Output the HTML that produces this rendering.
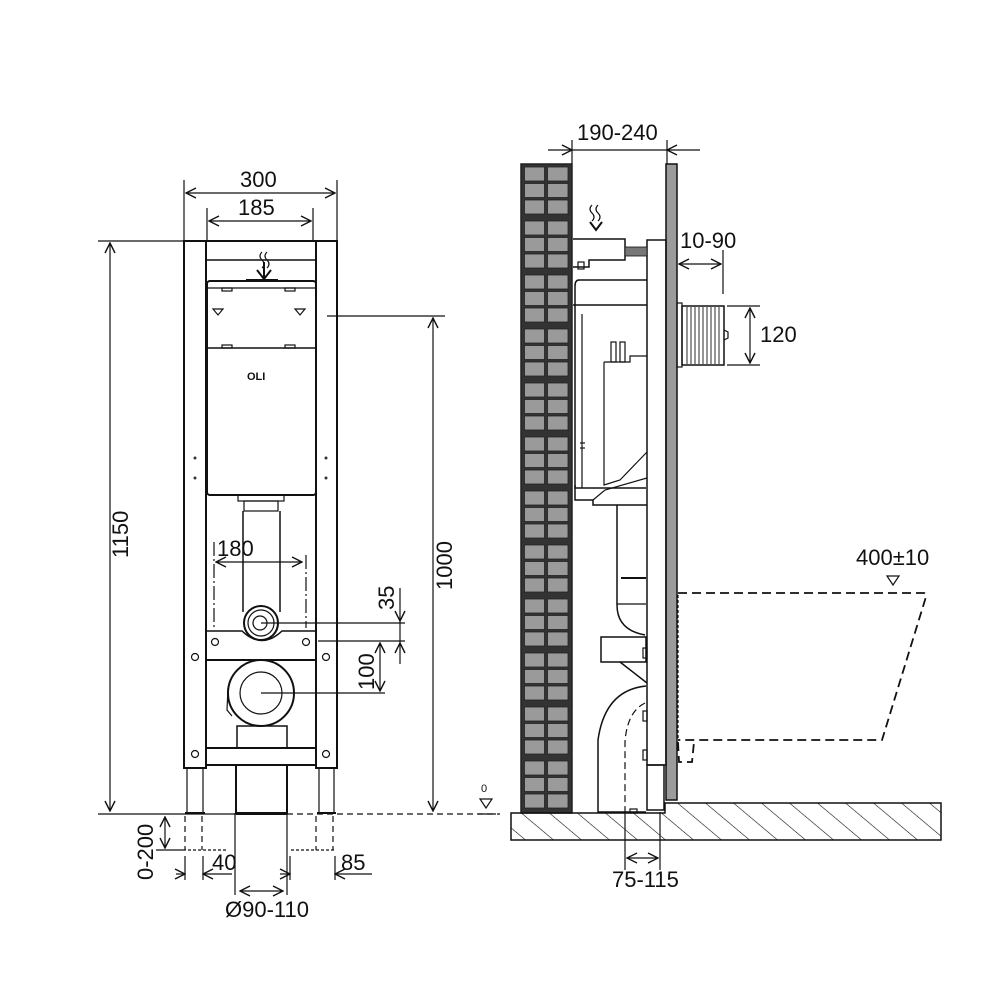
<!DOCTYPE html>
<html><head><meta charset="utf-8"><style>
body{margin:0;background:#fff}
svg{display:block}
text{font-family:"Liberation Sans",sans-serif;font-size:22px;fill:#111}
</style></head><body>
<svg width="1000" height="1000" viewBox="0 0 1000 1000" xmlns="http://www.w3.org/2000/svg">
<defs>
<pattern id="brick" x="521" y="164" width="51" height="54" patternUnits="userSpaceOnUse">
<rect width="51" height="54" fill="#333"/>
<g fill="#9a9a9a" stroke="#222" stroke-width="0.8">
<rect x="3.5" y="3" width="20" height="14"/><rect x="26.5" y="3" width="20.5" height="14"/>
<rect x="3.5" y="19.5" width="20" height="14"/><rect x="26.5" y="19.5" width="20.5" height="14"/>
<rect x="3.5" y="36" width="20" height="14"/><rect x="26.5" y="36" width="20.5" height="14"/>
</g>
</pattern>
<pattern id="hatch" width="18" height="18" patternUnits="userSpaceOnUse" patternTransform="rotate(-50)">
<line x1="0" y1="0" x2="0" y2="18" stroke="#111" stroke-width="1.2"/>
</pattern>
<marker id="a" viewBox="0 0 12 12" refX="11" refY="6" markerWidth="12" markerHeight="12" orient="auto-start-reverse" markerUnits="userSpaceOnUse">
<path d="M1,1 L11,6 L1,11" fill="none" stroke="#111" stroke-width="1.4"/>
</marker>
</defs>
<g fill="none" stroke="#111" stroke-width="1.2">
<line x1="184" y1="180" x2="184" y2="240"/><line x1="337" y1="180" x2="337" y2="240"/>
<line x1="207" y1="208" x2="207" y2="240"/><line x1="313" y1="208" x2="313" y2="240"/>
<line x1="186" y1="193" x2="335" y2="193" marker-start="url(#a)" marker-end="url(#a)"/>
<line x1="209" y1="221" x2="311" y2="221" marker-start="url(#a)" marker-end="url(#a)"/>
<rect x="184" y="241" width="22" height="527" stroke-width="2"/>
<rect x="316" y="241" width="21" height="527" stroke-width="2"/>
<line x1="206" y1="241" x2="316" y2="241" stroke-width="2"/>
<line x1="206" y1="260" x2="316" y2="260" stroke-width="1.5"/>
<line x1="187" y1="768" x2="187" y2="813"/><line x1="203" y1="768" x2="203" y2="813"/>
<line x1="319" y1="768" x2="319" y2="813"/><line x1="334" y1="768" x2="334" y2="813"/>
<line x1="185" y1="813" x2="205" y2="813" stroke-width="2"/><line x1="317" y1="813" x2="336" y2="813" stroke-width="2"/>
<g stroke-dasharray="6,4">
<line x1="185" y1="816" x2="185" y2="850"/><line x1="202" y1="816" x2="202" y2="850"/>
<line x1="316" y1="816" x2="316" y2="850"/><line x1="333" y1="816" x2="333" y2="850"/>
<line x1="183" y1="850" x2="228" y2="850" stroke-dasharray="3,2"/><line x1="291" y1="850" x2="335" y2="850" stroke-dasharray="3,2"/>
</g>
<rect x="207" y="281" width="109" height="214" rx="3" stroke-width="2"/>
<line x1="208" y1="288" x2="315" y2="288"/>
<line x1="208" y1="348" x2="315" y2="348" stroke-width="1.5"/>
<line x1="246" y1="280" x2="278" y2="280" stroke-width="2"/>
<rect x="222" y="288" width="10" height="3"/><rect x="285" y="288" width="10" height="3"/>
<rect x="222" y="345" width="10" height="3"/><rect x="285" y="345" width="10" height="3"/>
<path d="M213,309 L223,309 L218,315 Z M295,309 L305,309 L300,315 Z"/>
<path d="M262,252 q-4,4 0,8 q4,4 0,8 M267,252 q-4,4 0,8 q4,4 0,8" />
<path d="M257,270 L264,279 L271,270" stroke-width="2"/>
<line x1="264" y1="262" x2="264" y2="279" stroke-width="2"/>
<rect x="238" y="495" width="46" height="6"/>
<rect x="244" y="501" width="34" height="10"/>
<path d="M243,511 L243,612 M280,511 L280,612" stroke-width="1.5"/>
<g fill="#333" stroke="none">
<circle cx="195" cy="458" r="1.5"/><circle cx="195" cy="478" r="1.5"/>
<circle cx="326" cy="458" r="1.5"/><circle cx="326" cy="478" r="1.5"/>
</g>
<circle cx="195" cy="657" r="3.5"/><circle cx="326" cy="657" r="3.5"/>
<circle cx="195" cy="754" r="3.5"/><circle cx="326" cy="754" r="3.5"/>
<circle cx="215" cy="642" r="3.5"/><circle cx="306" cy="642" r="3.5"/>
<line x1="214" y1="542" x2="214" y2="628" stroke-dasharray="14,3,2,3"/>
<line x1="306" y1="555" x2="306" y2="628" stroke-dasharray="14,3,2,3"/>
<line x1="216" y1="562" x2="302" y2="562" marker-start="url(#a)" marker-end="url(#a)"/>
<path d="M207,631 L242,631 Q262,650 282,631 L316,631" stroke-width="1.5"/>
<line x1="207" y1="660" x2="316" y2="660" stroke-width="2"/>
<circle cx="261" cy="623" r="17" fill="#fff" stroke-width="2"/><circle cx="261" cy="623" r="13"/><circle cx="260" cy="623" r="7"/>
<line x1="261" y1="623" x2="405" y2="623"/>
<line x1="318" y1="641" x2="405" y2="641"/>
<circle cx="261" cy="693" r="33" stroke-width="2"/><circle cx="261" cy="693" r="21"/>
<path d="M228,688 L227,710 L232,716"/>
<line x1="261" y1="693" x2="385" y2="693"/>
<rect x="237" y="726" width="50" height="22" stroke-width="1.5"/>
<line x1="207" y1="748" x2="316" y2="748" stroke-width="2"/>
<line x1="207" y1="765" x2="316" y2="765" stroke-width="2"/>
<path d="M236,765 L236,813 L287,813 L287,765" stroke-width="2"/>
<line x1="235" y1="813" x2="235" y2="895"/><line x1="287" y1="813" x2="287" y2="895"/>
<line x1="240" y1="891" x2="283" y2="891" marker-start="url(#a)" marker-end="url(#a)"/>
<line x1="185" y1="856" x2="185" y2="880"/><line x1="203" y1="856" x2="203" y2="880"/>
<line x1="176" y1="874" x2="185" y2="874" marker-end="url(#a)"/><line x1="232" y1="874" x2="203" y2="874" marker-end="url(#a)"/>
<line x1="290" y1="856" x2="290" y2="880"/><line x1="335" y1="856" x2="335" y2="880"/>
<line x1="280" y1="874" x2="290" y2="874" marker-end="url(#a)"/><line x1="372" y1="874" x2="335" y2="874" marker-end="url(#a)"/>
<line x1="156" y1="850" x2="183" y2="850"/>
<line x1="165" y1="817" x2="165" y2="848" marker-start="url(#a)" marker-end="url(#a)"/>
<line x1="98" y1="241" x2="183" y2="241"/>
<line x1="110" y1="243" x2="110" y2="811" marker-start="url(#a)" marker-end="url(#a)"/>
<line x1="98" y1="814" x2="236" y2="814"/>
<line x1="287" y1="814" x2="500" y2="814" stroke-dasharray="6,4"/>
<line x1="236" y1="814" x2="287" y2="814" stroke-width="2"/>
<line x1="327" y1="316" x2="445" y2="316"/>
<line x1="433" y1="318" x2="433" y2="811" marker-start="url(#a)" marker-end="url(#a)"/>
<line x1="400" y1="588" x2="400" y2="621" marker-end="url(#a)"/>
<line x1="400" y1="664" x2="400" y2="643" marker-end="url(#a)"/>
<line x1="400" y1="621" x2="400" y2="643"/>
<line x1="380" y1="643" x2="380" y2="691" marker-start="url(#a)" marker-end="url(#a)"/>
<path d="M480,799 L492,799 L486,808 Z"/>
<line x1="478" y1="814" x2="496" y2="814"/>

<rect x="521" y="164" width="51" height="649" fill="url(#brick)" stroke="#222" stroke-width="1.5"/>
<rect x="511" y="813" width="154" height="27" fill="url(#hatch)" stroke="none"/>
<rect x="665" y="803" width="276" height="37" fill="url(#hatch)" stroke="none"/>
<path d="M511,813 L665,813 L665,803 L941,803 L941,840 L511,840 Z" stroke-width="1.5"/>
<line x1="572" y1="140" x2="572" y2="164"/><line x1="667" y1="140" x2="667" y2="164"/>
<line x1="548" y1="150" x2="572" y2="150" marker-end="url(#a)"/>
<line x1="700" y1="150" x2="667" y2="150" marker-end="url(#a)"/>
<line x1="572" y1="150" x2="667" y2="150"/>
<rect x="666" y="164" width="11" height="636" fill="#9b9b9b" stroke-width="1.5"/>
<rect x="647" y="240" width="19" height="525" stroke-width="1.5"/>
<rect x="647" y="765" width="17" height="45" stroke-width="1.5"/>
<path d="M573,239 L625,239 L625,260 L589,260 L589,267 L573,267" stroke-width="1.5"/>
<rect x="625" y="247" width="22" height="9" fill="#777" stroke-width="0.8"/>
<rect x="578" y="262" width="6" height="7"/>
<path d="M592,205 q-4,4 0,8 q4,4 0,8 M598,205 q-4,4 0,8 q4,4 0,8"/>
<path d="M590,222 L596,230 L602,222" stroke-width="2"/>
<path d="M647,280 L579,280 Q575,280 575,286 L575,306" stroke-width="1.5"/>
<line x1="573" y1="305" x2="647" y2="305" stroke-width="1.5"/>
<path d="M575,306 L575,488 L646,488" stroke-width="1.5"/>
<path d="M582,314 L582,488 M604,362 L604,485 L620,480 L647,452"/>
<path d="M604,362 L630,362 L630,356 L647,356"/>
<rect x="611" y="342" width="5" height="20"/><rect x="620" y="342" width="5" height="20"/>
<line x1="580" y1="443" x2="585" y2="443"/><line x1="580" y1="448" x2="585" y2="448"/>
<path d="M575,485 L575,500 L593,500 L593,505 L647,505" stroke-width="1.5"/>
<path d="M593,500 L605,490 L647,478"/>
<path d="M617,505 L617,605 Q617,630 645,635" stroke-width="1.5"/>
<line x1="621" y1="578" x2="646" y2="578" stroke-width="2"/>
<line x1="617" y1="604" x2="646" y2="604"/>
<rect x="601" y="637" width="45" height="25" stroke-width="1.5"/>
<path d="M620,662 L647,683" stroke-width="1.5"/>
<path d="M646,686 Q605,690 598,740 L598,812 L646,812" stroke-width="1.5"/>
<path d="M645,703 Q627,712 625,742 L625,812" stroke-dasharray="7,4"/>
<rect x="643" y="711" width="4" height="10"/><rect x="643" y="750" width="4" height="10"/><rect x="643" y="648" width="4" height="10"/>
<rect x="630" y="809" width="7" height="4"/>
<line x1="625" y1="812" x2="625" y2="870"/><line x1="660" y1="812" x2="660" y2="870"/>
<line x1="627" y1="858" x2="658" y2="858" marker-start="url(#a)" marker-end="url(#a)"/>
<rect x="677" y="303" width="5" height="64" stroke-width="1.2"/>
<rect x="682" y="306" width="42" height="59" stroke-width="1.5"/>
<g stroke-width="0.9">
<line x1="687" y1="307" x2="687" y2="364"/><line x1="691" y1="307" x2="691" y2="364"/><line x1="695" y1="307" x2="695" y2="364"/><line x1="699" y1="307" x2="699" y2="364"/><line x1="703" y1="307" x2="703" y2="364"/><line x1="707" y1="307" x2="707" y2="364"/><line x1="711" y1="307" x2="711" y2="364"/><line x1="715" y1="307" x2="715" y2="364"/><line x1="719" y1="307" x2="719" y2="364"/>
</g>
<path d="M724,330 L728,332 L728,338 L724,340"/>
<line x1="723" y1="250" x2="723" y2="294"/>
<line x1="679" y1="264" x2="721" y2="264" marker-start="url(#a)" marker-end="url(#a)"/>
<line x1="727" y1="306" x2="760" y2="306"/><line x1="727" y1="365" x2="760" y2="365"/>
<line x1="750" y1="308" x2="750" y2="363" marker-start="url(#a)" marker-end="url(#a)"/>
<g stroke-width="1.8" stroke-dasharray="9,5">
<path d="M678,593 L924,593 Q927,594 925,600 L882,740 L678,740"/>
<path d="M678,742 L679,762 L692,762 L694,742"/>
</g>
<line x1="678" y1="595" x2="678" y2="740" stroke-dasharray="3,2"/>
<path d="M887,576 L899,576 L893,585 Z"/>
</g>
<text x="240" y="187">300</text>
<text x="238" y="215">185</text>
<text x="217" y="556">180</text>
<text x="577" y="140">190-240</text>
<text x="680" y="248">10-90</text>
<text x="760" y="342">120</text>
<text x="856" y="565">400±10</text>
<text x="612" y="887">75-115</text>
<text x="225" y="917">Ø90-110</text>
<text x="212" y="870">40</text>
<text x="341" y="870">85</text>
<text x="481" y="792" style="font-size:11px">0</text>
<text x="247" y="380" style="font-size:11px;font-weight:bold">OLI</text>
<text transform="translate(128,558) rotate(-90)">1150</text>
<text transform="translate(452,590) rotate(-90)">1000</text>
<text transform="translate(394,610) rotate(-90)">35</text>
<text transform="translate(374,690) rotate(-90)">100</text>
<text transform="translate(153,880) rotate(-90)">0-200</text>
</svg>
</body></html>
